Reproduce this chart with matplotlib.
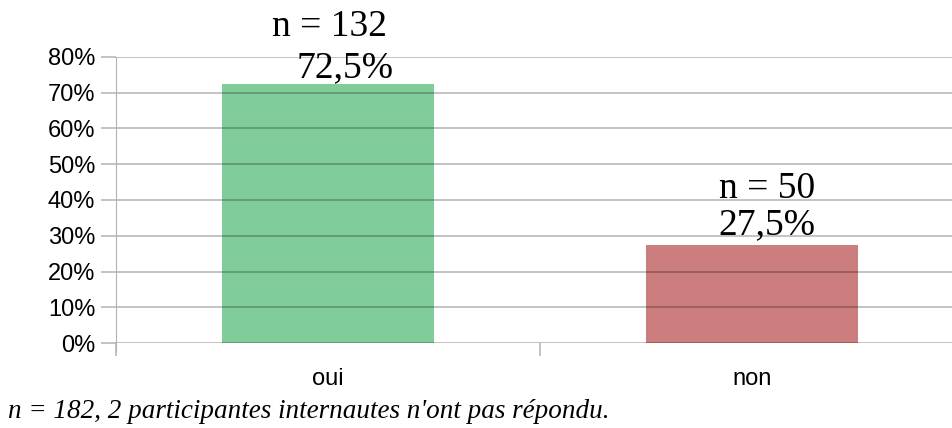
import matplotlib
matplotlib.use("Agg")
import matplotlib.pyplot as plt
from matplotlib.ticker import FuncFormatter
from matplotlib.transforms import offset_copy

categories = ["oui", "non"]
values = [72.5, 27.5]
counts = [132, 50]
colors = ["#81cd99", "#cc7e7e"]
yticks = [0, 10, 20, 30, 40, 50, 60, 70, 80]
footnote = "n = 182, 2 participantes internautes n'ont pas répondu."

W, H = 953, 428
fig = plt.figure(figsize=(W / 100, H / 100), dpi=100)
left, right = 116 / W, 964 / W
bottom, top = (H - 343) / H, (H - 57) / H
ax = fig.add_axes([left, bottom, right - left, top - bottom])

x = list(range(len(categories)))
ax.bar(x, values, width=0.5, color=colors, zorder=1)
ax.set_xlim(-0.5, len(categories) - 0.5)
ax.set_ylim(0, 80)

ax.set_yticks(yticks)
ax.yaxis.set_major_formatter(FuncFormatter(lambda v, p: f"{int(v)}%"))
ax.grid(axis="y", color="black", alpha=0.3, linewidth=1.1, zorder=3)
ax.set_axisbelow(False)
for s in ["top", "right", "bottom"]:
    ax.spines[s].set_visible(False)
ax.spines["left"].set_color("#b3b3b3")
ax.spines["left"].set_bounds(-2.5, 80)
ax.tick_params(axis="y", length=11, color="#b3b3b3", width=1.1,
               labelsize=17, pad=4, labelfontfamily="Liberation Sans")
ax.set_xticks([i + 0.5 for i in x[:-1]] + [-0.5])
ax.set_xticklabels([])
ax.tick_params(axis="x", length=9, color="#b3b3b3", width=1.1)
ax.spines["left"].set_zorder(4)

# per-bar offsets in px: (dx line1, dy line1, dx line2, dy line2)
offs = [(2, 48, 17, 7), (15, 47, 15, 10)]
for i, (c, v, n) in enumerate(zip(categories, values, counts)):
    ax.text(i, -10, c, ha="center", va="center", fontsize=17,
            family="Liberation Sans")
    pct = f"{str(v).replace('.', ',')}%"
    dx1, dy1, dx2, dy2 = offs[i]
    t1 = offset_copy(ax.transData, fig=fig, x=dx1 * 0.72, y=dy1 * 0.72, units="points")
    t2 = offset_copy(ax.transData, fig=fig, x=dx2 * 0.72, y=dy2 * 0.72, units="points")
    ax.text(i, v, f"n = {n}", ha="center", va="baseline", fontsize=27,
            family="Liberation Serif", transform=t1, clip_on=False)
    ax.text(i, v, pct, ha="center", va="baseline", fontsize=27,
            family="Liberation Serif", transform=t2, clip_on=False)

fig.text(8 / W, 1 - 412 / H, footnote, ha="left", va="center",
         fontsize=19.5, style="italic", family="Liberation Serif")

fig.savefig("out.png", dpi=100)
